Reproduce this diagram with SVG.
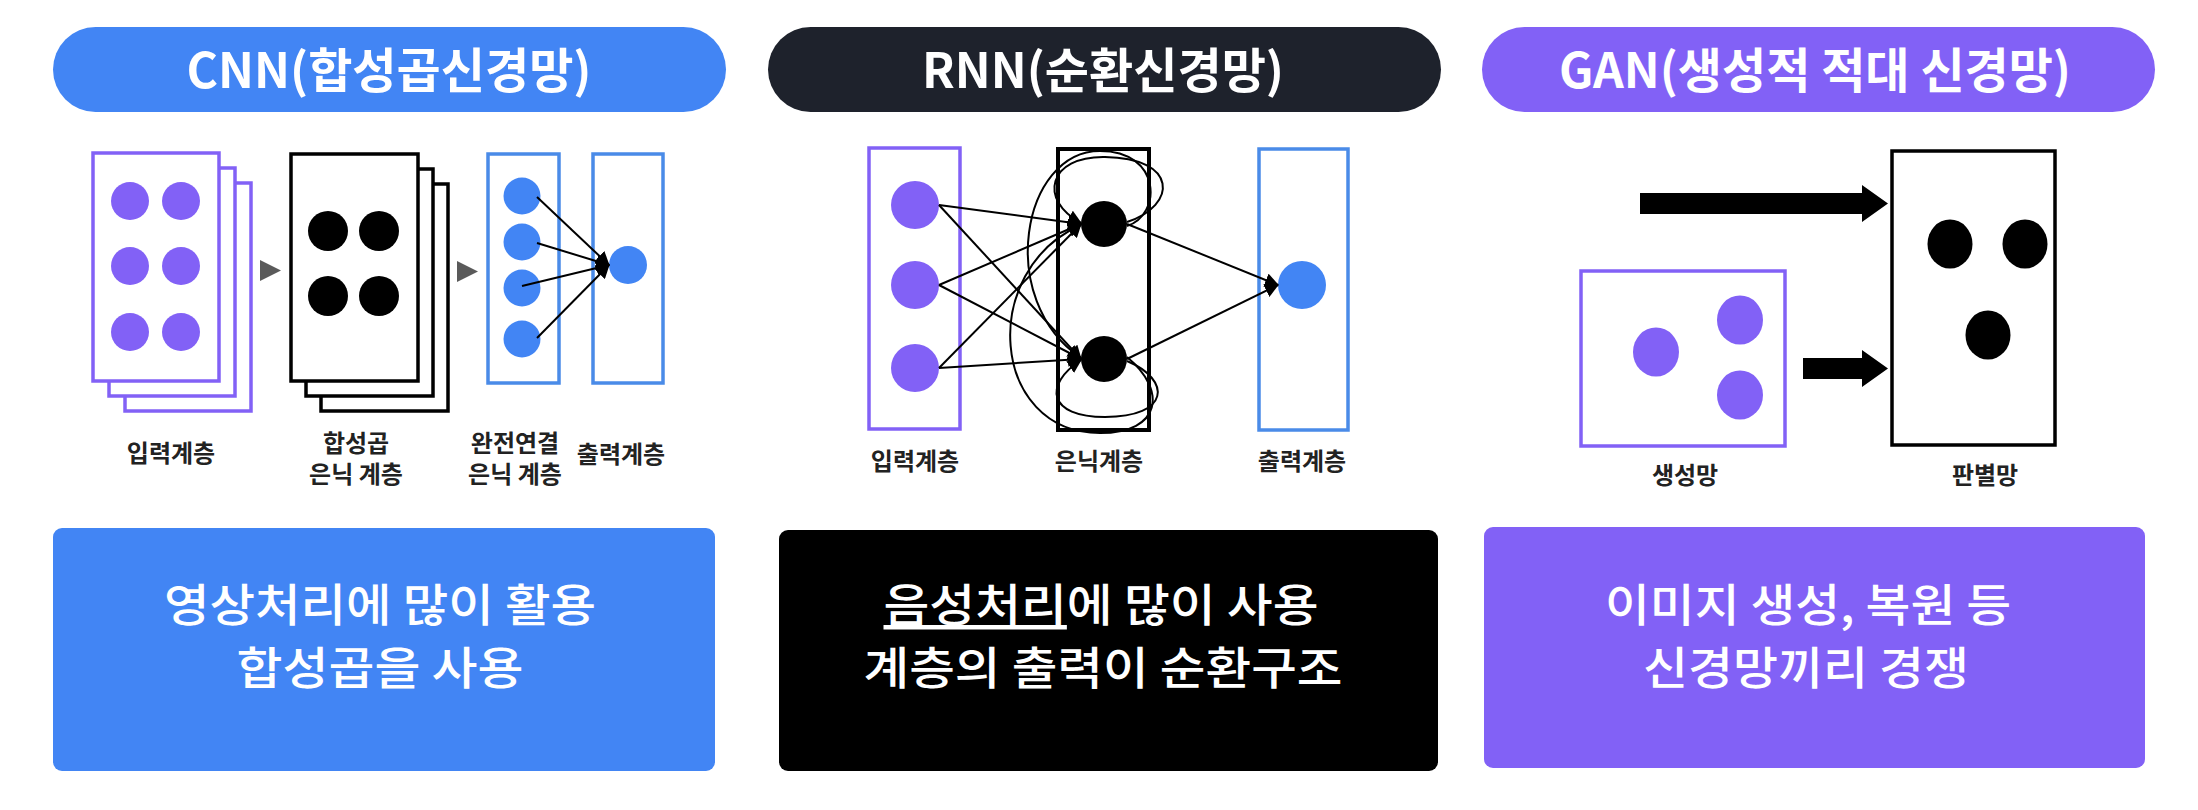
<svg xmlns="http://www.w3.org/2000/svg" width="2198" height="810" viewBox="0 0 2198 810">
<defs>
<style>
.t{font-family:"Noto Sans CJK KR","Noto Sans",sans-serif;text-anchor:middle}
.hd{font-size:48px;font-weight:700;fill:#fff}
.bd{font-size:45px;font-weight:500;fill:#fff}
.lb{font-size:24px;font-weight:700;fill:#222}
.pr{fill:#fff;stroke:#8261F6;stroke-width:3.5}
.bk{fill:#fff;stroke:#000;stroke-width:3.5}
.bl{fill:#fff;stroke:#4A8BE8;stroke-width:3.5}
.pd{fill:#8261F6}
.kd{fill:#000}
.bdot{fill:#4285F4}
.ln{fill:none;stroke:#000;stroke-width:2}
.tri{fill:#5a5a5a}
</style>
<marker id="ah" markerUnits="userSpaceOnUse" markerWidth="14" markerHeight="14" refX="13" refY="7" orient="auto">
<path d="M0,0 L14,7 L0,14 Z" fill="#000"/>
</marker>
</defs>
<rect width="2198" height="810" fill="#fff"/>

<g id="cnn-title">
<rect x="53" y="27" width="673" height="85" rx="42.5" fill="#4285F4"/>
<text class="t hd" x="389" y="88" textLength="405" lengthAdjust="spacingAndGlyphs">CNN(합성곱신경망)</text>
</g>
<g id="rnn-title">
<rect x="768" y="27" width="673" height="85" rx="42.5" fill="#1E222C"/>
<text class="t hd" x="1103" y="88" textLength="362" lengthAdjust="spacingAndGlyphs">RNN(순환신경망)</text>
</g>
<g id="gan-title">
<rect x="1482" y="27" width="673" height="85" rx="42.5" fill="#8261F6"/>
<text class="t hd" x="1815" y="88" textLength="512" lengthAdjust="spacingAndGlyphs">GAN(생성적 적대 신경망)</text>
</g>

<g id="cnn-input">
<rect class="pr" x="125" y="183" width="126" height="228"/>
<rect class="pr" x="109" y="168" width="126" height="228"/>
<rect class="pr" x="93" y="153" width="126" height="228"/>
<circle class="pd" cx="130" cy="201" r="19"/>
<circle class="pd" cx="181" cy="201" r="19"/>
<circle class="pd" cx="130" cy="266" r="19"/>
<circle class="pd" cx="181" cy="266" r="19"/>
<circle class="pd" cx="130" cy="332" r="19"/>
<circle class="pd" cx="181" cy="332" r="19"/>
<text class="t lb" x="171" y="462">입력계층</text>
</g>
<g id="cnn-conv">
<rect class="bk" x="321" y="184" width="127" height="227"/>
<rect class="bk" x="306" y="169" width="127" height="227"/>
<rect class="bk" x="291" y="154" width="127" height="227"/>
<circle class="kd" cx="328" cy="231" r="20"/>
<circle class="kd" cx="379" cy="231" r="20"/>
<circle class="kd" cx="328" cy="296" r="20"/>
<circle class="kd" cx="379" cy="296" r="20"/>
<text class="t lb"><tspan x="356" y="452">합성곱</tspan><tspan x="356" y="483">은닉 계층</tspan></text>
</g>
<g id="cnn-fc">
<rect class="bl" x="488" y="154" width="71" height="229"/>
<circle class="bdot" cx="522" cy="196" r="18.5"/>
<circle class="bdot" cx="522" cy="242" r="18.5"/>
<circle class="bdot" cx="522" cy="288" r="18.5"/>
<circle class="bdot" cx="522" cy="339" r="18.5"/>
<text class="t lb"><tspan x="515" y="452">완전연결</tspan><tspan x="515" y="483">은닉 계층</tspan></text>
</g>
<g id="cnn-output">
<rect class="bl" x="593" y="154" width="70" height="229"/>
<circle class="bdot" cx="628" cy="265" r="19"/>
<text class="t lb" x="621" y="463">출력계층</text>
</g>

<g id="rnn-input">
<rect class="pr" x="869" y="148" width="91" height="281"/>
<circle class="pd" cx="915" cy="205" r="24"/>
<circle class="pd" cx="915" cy="285" r="24"/>
<circle class="pd" cx="915" cy="368" r="24"/>
<text class="t lb" x="915" y="470">입력계층</text>
</g>
<g id="rnn-hidden">
<rect x="1058" y="149" width="91" height="281" fill="#fff" stroke="#000" stroke-width="4"/>
<circle class="kd" cx="1104" cy="224" r="23"/>
<circle class="kd" cx="1104" cy="359" r="23"/>
<text class="t lb" x="1099" y="470">은닉계층</text>
</g>
<g id="rnn-output">
<rect class="bl" x="1259" y="149" width="89" height="281"/>
<circle class="bdot" cx="1302" cy="285" r="24"/>
<text class="t lb" x="1302" y="470">출력계층</text>
</g>

<g id="gan-generator">
<rect class="pr" x="1581" y="271" width="204" height="175"/>
<ellipse class="pd" cx="1656" cy="352" rx="23" ry="24.5"/>
<ellipse class="pd" cx="1740" cy="320" rx="23" ry="24.5"/>
<ellipse class="pd" cx="1740" cy="395" rx="23" ry="24.5"/>
<text class="t lb" x="1685" y="484">생성망</text>
</g>
<g id="gan-discriminator">
<rect class="bk" x="1892" y="151" width="163" height="294"/>
<ellipse class="kd" cx="1950" cy="244" rx="22.5" ry="24.5"/>
<ellipse class="kd" cx="2025" cy="244" rx="22.5" ry="24.5"/>
<ellipse class="kd" cx="1988" cy="335" rx="22.5" ry="24.5"/>
<text class="t lb" x="1985" y="484">판별망</text>
</g>

<g id="connectors">
<polygon class="tri" points="260,260 281,270.5 260,281"/>
<polygon class="tri" points="457,261 478,271.5 457,282"/>
<line class="ln" x1="537" y1="197" x2="609" y2="265" marker-end="url(#ah)"/>
<line class="ln" x1="537" y1="243" x2="609" y2="265" marker-end="url(#ah)"/>
<line class="ln" x1="522" y1="286" x2="609" y2="265" marker-end="url(#ah)"/>
<line class="ln" x1="537" y1="338" x2="609" y2="265" marker-end="url(#ah)"/>

<line class="ln" x1="939" y1="205" x2="1081" y2="224" marker-end="url(#ah)"/>
<line class="ln" x1="939" y1="205" x2="1081" y2="359" marker-end="url(#ah)"/>
<line class="ln" x1="939" y1="285" x2="1081" y2="224" marker-end="url(#ah)"/>
<line class="ln" x1="939" y1="285" x2="1081" y2="359" marker-end="url(#ah)"/>
<line class="ln" x1="939" y1="368" x2="1081" y2="224" marker-end="url(#ah)"/>
<line class="ln" x1="939" y1="368" x2="1081" y2="359" marker-end="url(#ah)"/>
<line class="ln" x1="1127" y1="224" x2="1278" y2="285" marker-end="url(#ah)"/>
<line class="ln" x1="1127" y1="359" x2="1278" y2="285" marker-end="url(#ah)"/>
<path class="ln" d="M1127,222 C1178,205 1178,158 1105,157 C1048,156 1038,200 1081,223" marker-end="url(#ah)"/>
<path class="ln" d="M1127,361 C1172,380 1170,417 1105,417 C1048,417 1043,385 1081,360" marker-end="url(#ah)"/>
<path class="ln" d="M1127,226 C1162,215 1162,151 1100,151 C1022,151 995,300 1081,358" marker-end="url(#ah)"/>
<path class="ln" d="M1127,357 C1167,390 1162,433 1100,433 C990,433 978,270 1081,225" marker-end="url(#ah)"/>

<polygon points="1640,193 1862,193 1862,185 1888,203.5 1862,222 1862,214 1640,214" fill="#000"/>
<polygon points="1803,358 1862,358 1862,350 1888,368.5 1862,387 1862,379 1803,379" fill="#000"/>
</g>

<g id="cnn-desc">
<rect x="53" y="528" width="662" height="243" rx="9" fill="#4285F4"/>
<text class="t bd"><tspan x="380" y="622" textLength="432" lengthAdjust="spacingAndGlyphs">영상처리에 많이 활용</tspan><tspan x="380" y="685" textLength="287" lengthAdjust="spacingAndGlyphs">합성곱을 사용</tspan></text>
</g>
<g id="rnn-desc">
<rect x="779" y="530" width="659" height="241" rx="9" fill="#000"/>
<text class="t bd"><tspan x="1101" y="622" textLength="435" lengthAdjust="spacingAndGlyphs"><tspan text-decoration="underline">음성처리</tspan>에 많이 사용</tspan><tspan x="1103" y="685" textLength="479" lengthAdjust="spacingAndGlyphs">계층의 출력이 순환구조</tspan></text>
</g>
<g id="gan-desc">
<rect x="1484" y="527" width="661" height="241" rx="9" fill="#8261F6"/>
<text class="t bd"><tspan x="1808" y="622" textLength="406" lengthAdjust="spacingAndGlyphs">이미지 생성, 복원 등</tspan><tspan x="1806" y="685" textLength="326" lengthAdjust="spacingAndGlyphs">신경망끼리 경쟁</tspan></text>
</g>
</svg>
